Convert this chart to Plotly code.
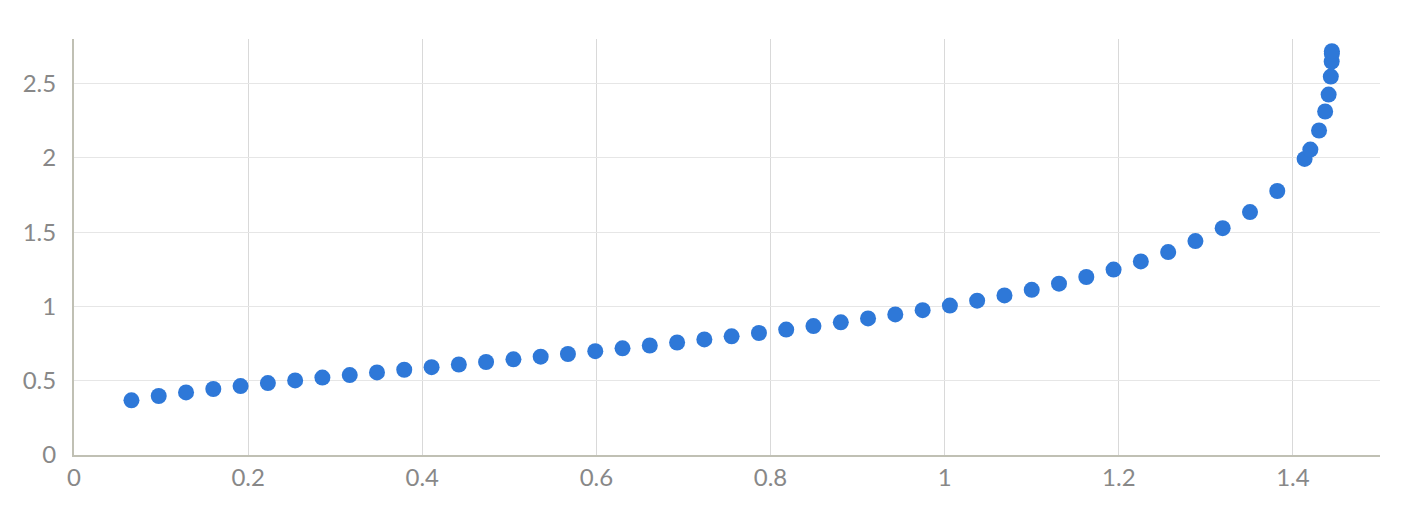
import plotly.graph_objects as go

x_values = [0.0660, 0.0973, 0.1287, 0.1600, 0.1913, 0.2227, 0.2540, 0.2853, 0.3167, 0.3480,
            0.3793, 0.4107, 0.4420, 0.4733, 0.5047, 0.5360, 0.5673, 0.5987, 0.6300, 0.6613,
            0.6927, 0.7240, 0.7553, 0.7867, 0.8180, 0.8493, 0.8807, 0.9120, 0.9433, 0.9747,
            1.0060, 1.0373, 1.0687, 1.1000, 1.1313, 1.1627, 1.1940, 1.2253, 1.2567, 1.2880,
            1.3193, 1.3507, 1.3820, 1.4134, 1.4200, 1.4300, 1.4370, 1.4410, 1.4435, 1.4445,
            1.4447, 1.4447]
y_values = [0.368, 0.397, 0.421, 0.444, 0.464, 0.484, 0.502, 0.521, 0.538, 0.556,
            0.574, 0.591, 0.609, 0.626, 0.644, 0.662, 0.680, 0.699, 0.718, 0.737,
            0.757, 0.778, 0.799, 0.821, 0.844, 0.868, 0.893, 0.919, 0.946, 0.975,
            1.006, 1.039, 1.074, 1.112, 1.153, 1.198, 1.248, 1.303, 1.366, 1.440,
            1.527, 1.635, 1.777, 1.993, 2.056, 2.184, 2.312, 2.426, 2.547, 2.648,
            2.700, 2.718]

x_ticks = [0, 0.2, 0.4, 0.6, 0.8, 1, 1.2, 1.4]
x_tick_labels = ["0", "0.2", "0.4", "0.6", "0.8", "1", "1.2", "1.4"]
y_ticks = [0, 0.5, 1, 1.5, 2, 2.5]
y_tick_labels = ["0", "0.5", "1", "1.5", "2", "2.5"]

fig = go.Figure(go.Scatter(
    x=x_values, y=y_values, mode="markers",
    marker=dict(color="#2e78d8", size=16, line=dict(width=0)),
    hoverinfo="x+y",
))

fig.update_layout(
    width=1396, height=502,
    margin=dict(l=66, r=24, t=31, b=55),
    plot_bgcolor="white", paper_bgcolor="white",
    showlegend=False,
    font=dict(family="Lato, sans-serif", size=24, color="#888888"),
)
fig.update_xaxes(
    range=[0, 1.5], tickvals=x_ticks, ticktext=x_tick_labels,
    showgrid=True, gridcolor="#d9d9d9", gridwidth=1,
    showline=True, linecolor="#c0c0b4", linewidth=2,
    zeroline=False, ticks="", ticklen=0,
)
fig.update_yaxes(
    range=[0, 2.8], tickvals=y_ticks, ticktext=y_tick_labels,
    showgrid=True, gridcolor="#e6e6e6", gridwidth=1,
    showline=True, linecolor="#c0c0b4", linewidth=2,
    zeroline=False, ticks="", ticklen=0,
    ticklabelstandoff=11,
)

fig.write_html("out.html")
